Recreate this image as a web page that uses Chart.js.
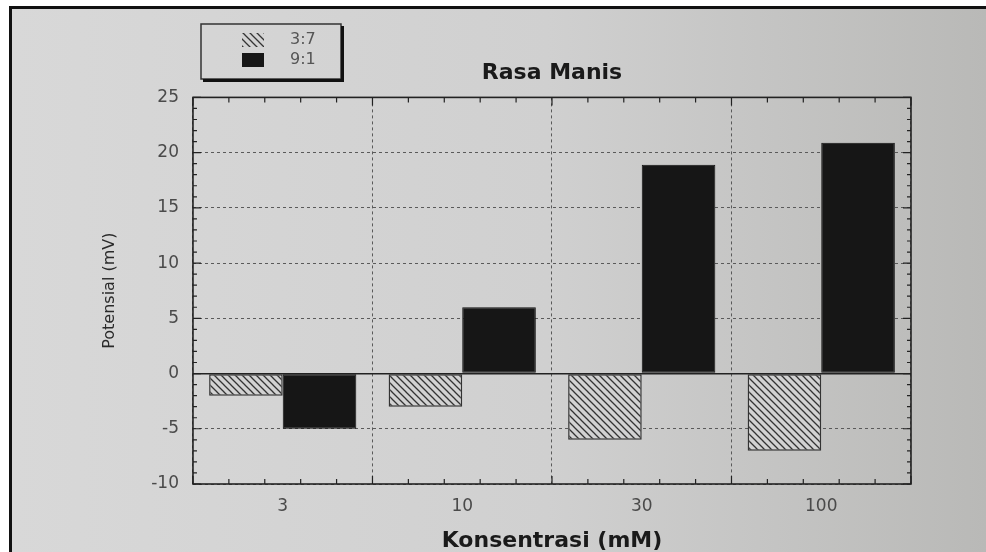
<!DOCTYPE html>
<html>
<head>
<meta charset="utf-8">
<script src="https://cdn.jsdelivr.net/npm/chart.js@4"></script>
<style>
  body { margin: 0; background: #fff; width: 986px; height: 552px; overflow: hidden; position: relative; }
  .photo {
    position: absolute; left: 9px; top: 6px; right: 0; bottom: 0;
    border-top: 3px solid #111; border-left: 3px solid #111;
    background: linear-gradient(to right, #d8d8d8 0%, #d0d0d0 55%, #b9b9b7 100%);
  }
  #chart { position: absolute; left: 0; top: 0; }
</style>
</head>
<body>
<div class="photo"></div>
<canvas id="chart" width="986" height="552"></canvas>
<script>
// data
const categories = ["3", "10", "30", "100"];
const seriesLabels = ["3:7", "9:1"];
const values37 = [-2, -3, -6, -7];
const values91 = [-5, 6, 18.9, 20.9];
const yMin = -10;
const yMax = 25;
const yStep = 5;

const ink = '#222';
const gridInk = '#5a5a5a';
const font = "'DejaVu Sans', sans-serif";

// hatch pattern for the 3:7 bars
function makeHatch() {
    let c = document.createElement('canvas');
    c.width = 7;
    c.height = 7;
    let g = c.getContext('2d');
    g.fillStyle = '#d2d2d2';
    g.fillRect(0, 0, 7, 7);
    g.strokeStyle = '#333';
    g.lineWidth = 1.3;
    g.beginPath();
    g.moveTo(-1, -1); g.lineTo(8, 8);
    g.moveTo(-1, 6); g.lineTo(1, 8);
    g.moveTo(6, -1); g.lineTo(8, 1);
    g.stroke();
    return g.createPattern(c, 'repeat');
}
const hatch = makeHatch();

// frame, inward ticks and the boxed legend
const framePlugin = {
    id: 'frame',
    afterDraw(chart) {
        const ctx = chart.ctx;
        const a = chart.chartArea;
        const xs = chart.scales.x;
        const ys = chart.scales.y;
        ctx.save();
        ctx.strokeStyle = ink;
        ctx.lineWidth = 1.2;
        for (let v = ys.min; v <= ys.max; v += 1) {
            let y = ys.getPixelForValue(v);
            let len = (v % yStep === 0) ? 8 : 4;
            ctx.beginPath();
            ctx.moveTo(a.left, y); ctx.lineTo(a.left + len, y);
            ctx.moveTo(a.right, y); ctx.lineTo(a.right - len, y);
            ctx.stroke();
        }
        for (let k = 0; k <= categories.length * 5; k++) {
            let x = xs.getPixelForValue(-0.5 + k / 5);
            let len = (k % 5 === 0) ? 8 : 5;
            ctx.beginPath();
            ctx.moveTo(x, a.bottom); ctx.lineTo(x, a.bottom - len);
            ctx.moveTo(x, a.top); ctx.lineTo(x, a.top + len);
            ctx.stroke();
        }
        ctx.lineWidth = 1.6;
        ctx.strokeRect(a.left, a.top, a.right - a.left, a.bottom - a.top);

        // legend box
        let bx = 201, by = 24, bw = 140, bh = 55;
        ctx.lineWidth = 1.5;
        ctx.strokeStyle = '#333';
        ctx.strokeRect(bx, by, bw, bh);
        ctx.lineWidth = 3;
        ctx.strokeStyle = '#111';
        ctx.beginPath();
        ctx.moveTo(bx + 2, by + bh + 1.5); ctx.lineTo(bx + bw + 1.5, by + bh + 1.5); ctx.lineTo(bx + bw + 1.5, by + 2);
        ctx.stroke();
        chart.data.datasets.forEach((ds, i) => {
            let cy = by + 16 + i * 20;
            ctx.fillStyle = ds.backgroundColor;
            ctx.fillRect(bx + 41, cy - 7, 22, 14);
            ctx.fillStyle = '#555';
            ctx.font = "16px " + font;
            ctx.textBaseline = 'middle';
            ctx.textAlign = 'left';
            ctx.fillText(ds.label, bx + 89, cy);
        });
        ctx.restore();
    }
};

let chartCanvas = document.getElementById("chart");

let chartData = {
    labels: categories,
    datasets: [{
        label: seriesLabels[0],
        data: values37,
        backgroundColor: hatch,
        borderColor: '#333',
        borderWidth: 1.5,
        borderSkipped: false,
        categoryPercentage: 0.82,
        barPercentage: 1.0
    }, {
        label: seriesLabels[1],
        data: values91,
        backgroundColor: '#161616',
        borderColor: '#111',
        borderWidth: 1,
        borderSkipped: false,
        categoryPercentage: 0.82,
        barPercentage: 1.0
    }]
};

let chartOptions = {
    responsive: false,
    animation: false,
    layout: {
        padding: { left: 100, right: 75, top: 60, bottom: 0 }
    },
    scales: {
        x: {
            grid: {
                color: gridInk,
                lineWidth: 1,
                drawTicks: false
            },
            border: {
                display: false,
                dash: [3, 3]
            },
            ticks: {
                color: '#4a4a4a',
                padding: 14,
                font: { family: font, size: 17, lineHeight: 1 }
            },
            title: {
                display: true,
                text: 'Konsentrasi (mM)',
                color: '#1a1a1a',
                padding: { top: 1, bottom: 0 },
                font: { family: font, size: 22, weight: 'bold', lineHeight: 1 }
            }
        },
        y: {
            min: yMin,
            max: yMax,
            ticks: {
                stepSize: yStep,
                color: '#4a4a4a',
                padding: 14,
                font: { family: font, size: 17 }
            },
            grid: {
                color: (c) => (c.tick && c.tick.value === 0) ? '#222' : gridInk,
                lineWidth: (c) => (c.tick && c.tick.value === 0) ? 1.6 : 1,
                drawTicks: false
            },
            border: {
                display: false,
                dash: (c) => (c.type === 'tick' && c.tick.value !== 0) ? [3, 3] : []
            },
            title: {
                display: true,
                text: 'Potensial (mV)',
                color: '#2a2a2a',
                padding: { top: 0, bottom: 18 },
                font: { family: font, size: 16 }
            }
        }
    },
    plugins: {
        legend: {
            display: false
        },
        tooltip: {
            enabled: false
        },
        title: {
            display: true,
            fullSize: false,
            text: 'Rasa Manis',
            color: '#1a1a1a',
            padding: { top: 0, bottom: 11 },
            font: { family: font, size: 22, weight: 'bold' }
        }
    }
};

let mainChart = new Chart(chartCanvas, {
    type: 'bar',
    data: chartData,
    options: chartOptions,
    plugins: [framePlugin]
});
</script>
</body>
</html>
